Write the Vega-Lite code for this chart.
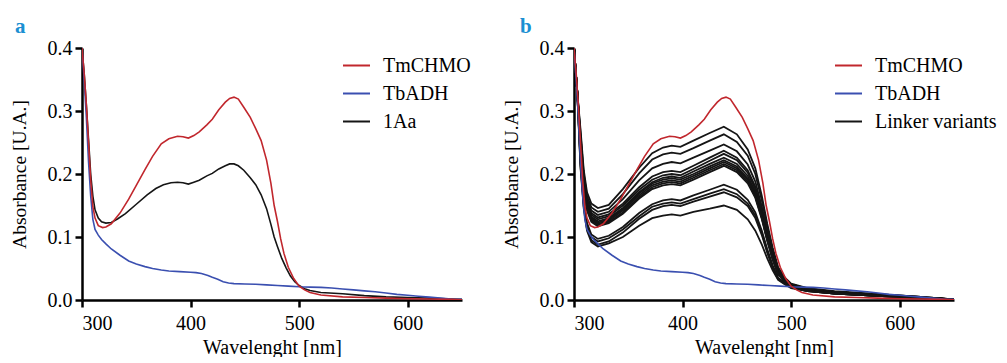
{
"$schema": "https://vega.github.io/schema/vega-lite/v6.json",
"background": "white",
"padding": {"left": 9, "top": 16, "right": 0, "bottom": 0},
"spacing": 30,
"config": {
  "font": "Liberation Serif",
  "view": {"stroke": null},
  "axis": {"domainColor": "black", "domainWidth": 2.5, "tickColor": "black", "tickWidth": 2.5, "tickSize": 7, "labelFont": "Liberation Serif", "labelFontSize": 20, "labelColor": "black", "titleFont": "Liberation Serif", "titleFontSize": 20, "titleFontWeight": "normal", "titleColor": "black", "grid": false},
  "axisX": {"labelPadding": 6, "titlePadding": 4},
  "axisY": {"labelPadding": 3, "titlePadding": 18, "titleFontSize": 19.5},
  "legend": {"orient": "none", "legendX": 260, "legendY": 3, "padding": 0, "title": null, "symbolType": "stroke", "symbolSize": 729, "symbolStrokeWidth": 2, "labelFont": "Liberation Serif", "labelFontSize": 20, "labelColor": "black", "labelOffset": 12, "rowPadding": 3},
  "title": {"font": "Liberation Serif", "fontSize": 21, "fontWeight": "bold", "color": "#1b8fd2", "anchor": "start", "frame": "bounds", "offset": 1}
},
"datasets": {
  "ref": [
{"series":"TbADH","curve":"TbADH","wl":300,"abs":0.40},{"series":"TbADH","curve":"TbADH","wl":302,"abs":0.35},{"series":"TbADH","curve":"TbADH","wl":304,"abs":0.29},{"series":"TbADH","curve":"TbADH","wl":306,"abs":0.22},{"series":"TbADH","curve":"TbADH","wl":308,"abs":0.165},{"series":"TbADH","curve":"TbADH","wl":310,"abs":0.128},{"series":"TbADH","curve":"TbADH","wl":312,"abs":0.112},{"series":"TbADH","curve":"TbADH","wl":315,"abs":0.103},{"series":"TbADH","curve":"TbADH","wl":318,"abs":0.096},{"series":"TbADH","curve":"TbADH","wl":322,"abs":0.089},{"series":"TbADH","curve":"TbADH","wl":327,"abs":0.081},{"series":"TbADH","curve":"TbADH","wl":335,"abs":0.071},{"series":"TbADH","curve":"TbADH","wl":343,"abs":0.062},{"series":"TbADH","curve":"TbADH","wl":350,"abs":0.057},{"series":"TbADH","curve":"TbADH","wl":358,"abs":0.053},{"series":"TbADH","curve":"TbADH","wl":365,"abs":0.050},{"series":"TbADH","curve":"TbADH","wl":373,"abs":0.0475},{"series":"TbADH","curve":"TbADH","wl":380,"abs":0.046},{"series":"TbADH","curve":"TbADH","wl":390,"abs":0.045},{"series":"TbADH","curve":"TbADH","wl":400,"abs":0.044},{"series":"TbADH","curve":"TbADH","wl":405,"abs":0.0435},{"series":"TbADH","curve":"TbADH","wl":410,"abs":0.042},{"series":"TbADH","curve":"TbADH","wl":416,"abs":0.039},{"series":"TbADH","curve":"TbADH","wl":420,"abs":0.036},{"series":"TbADH","curve":"TbADH","wl":425,"abs":0.033},{"series":"TbADH","curve":"TbADH","wl":430,"abs":0.029},{"series":"TbADH","curve":"TbADH","wl":435,"abs":0.027},{"series":"TbADH","curve":"TbADH","wl":440,"abs":0.026},{"series":"TbADH","curve":"TbADH","wl":450,"abs":0.0255},{"series":"TbADH","curve":"TbADH","wl":460,"abs":0.025},{"series":"TbADH","curve":"TbADH","wl":470,"abs":0.024},{"series":"TbADH","curve":"TbADH","wl":480,"abs":0.023},{"series":"TbADH","curve":"TbADH","wl":490,"abs":0.022},{"series":"TbADH","curve":"TbADH","wl":500,"abs":0.021},{"series":"TbADH","curve":"TbADH","wl":510,"abs":0.0205},{"series":"TbADH","curve":"TbADH","wl":520,"abs":0.020},{"series":"TbADH","curve":"TbADH","wl":530,"abs":0.019},{"series":"TbADH","curve":"TbADH","wl":540,"abs":0.0175},{"series":"TbADH","curve":"TbADH","wl":550,"abs":0.016},{"series":"TbADH","curve":"TbADH","wl":560,"abs":0.0145},{"series":"TbADH","curve":"TbADH","wl":570,"abs":0.013},{"series":"TbADH","curve":"TbADH","wl":580,"abs":0.011},{"series":"TbADH","curve":"TbADH","wl":590,"abs":0.009},{"series":"TbADH","curve":"TbADH","wl":600,"abs":0.0075},{"series":"TbADH","curve":"TbADH","wl":610,"abs":0.006},{"series":"TbADH","curve":"TbADH","wl":620,"abs":0.0045},{"series":"TbADH","curve":"TbADH","wl":630,"abs":0.003},{"series":"TbADH","curve":"TbADH","wl":640,"abs":0.0015},{"series":"TbADH","curve":"TbADH","wl":650,"abs":0.001},
{"series":"TmCHMO","curve":"TmCHMO","wl":300,"abs":0.40},{"series":"TmCHMO","curve":"TmCHMO","wl":302,"abs":0.36},{"series":"TmCHMO","curve":"TmCHMO","wl":304,"abs":0.31},{"series":"TmCHMO","curve":"TmCHMO","wl":306,"abs":0.25},{"series":"TmCHMO","curve":"TmCHMO","wl":308,"abs":0.19},{"series":"TmCHMO","curve":"TmCHMO","wl":310,"abs":0.148},{"series":"TmCHMO","curve":"TmCHMO","wl":312,"abs":0.13},{"series":"TmCHMO","curve":"TmCHMO","wl":315,"abs":0.118},{"series":"TmCHMO","curve":"TmCHMO","wl":319,"abs":0.115},{"series":"TmCHMO","curve":"TmCHMO","wl":322,"abs":0.116},{"series":"TmCHMO","curve":"TmCHMO","wl":327,"abs":0.121},{"series":"TmCHMO","curve":"TmCHMO","wl":335,"abs":0.138},{"series":"TmCHMO","curve":"TmCHMO","wl":343,"abs":0.160},{"series":"TmCHMO","curve":"TmCHMO","wl":350,"abs":0.182},{"series":"TmCHMO","curve":"TmCHMO","wl":358,"abs":0.207},{"series":"TmCHMO","curve":"TmCHMO","wl":365,"abs":0.228},{"series":"TmCHMO","curve":"TmCHMO","wl":373,"abs":0.248},{"series":"TmCHMO","curve":"TmCHMO","wl":380,"abs":0.256},{"series":"TmCHMO","curve":"TmCHMO","wl":388,"abs":0.260},{"series":"TmCHMO","curve":"TmCHMO","wl":393,"abs":0.259},{"series":"TmCHMO","curve":"TmCHMO","wl":398,"abs":0.257},{"series":"TmCHMO","curve":"TmCHMO","wl":403,"abs":0.261},{"series":"TmCHMO","curve":"TmCHMO","wl":408,"abs":0.267},{"series":"TmCHMO","curve":"TmCHMO","wl":415,"abs":0.278},{"series":"TmCHMO","curve":"TmCHMO","wl":420,"abs":0.287},{"series":"TmCHMO","curve":"TmCHMO","wl":426,"abs":0.302},{"series":"TmCHMO","curve":"TmCHMO","wl":432,"abs":0.314},{"series":"TmCHMO","curve":"TmCHMO","wl":436,"abs":0.320},{"series":"TmCHMO","curve":"TmCHMO","wl":440,"abs":0.322},{"series":"TmCHMO","curve":"TmCHMO","wl":444,"abs":0.319},{"series":"TmCHMO","curve":"TmCHMO","wl":449,"abs":0.306},{"series":"TmCHMO","curve":"TmCHMO","wl":455,"abs":0.290},{"series":"TmCHMO","curve":"TmCHMO","wl":460,"abs":0.272},{"series":"TmCHMO","curve":"TmCHMO","wl":465,"abs":0.253},{"series":"TmCHMO","curve":"TmCHMO","wl":470,"abs":0.222},{"series":"TmCHMO","curve":"TmCHMO","wl":474,"abs":0.185},{"series":"TmCHMO","curve":"TmCHMO","wl":477,"abs":0.150},{"series":"TmCHMO","curve":"TmCHMO","wl":480,"abs":0.125},{"series":"TmCHMO","curve":"TmCHMO","wl":483,"abs":0.097},{"series":"TmCHMO","curve":"TmCHMO","wl":486,"abs":0.074},{"series":"TmCHMO","curve":"TmCHMO","wl":490,"abs":0.052},{"series":"TmCHMO","curve":"TmCHMO","wl":495,"abs":0.034},{"series":"TmCHMO","curve":"TmCHMO","wl":500,"abs":0.022},{"series":"TmCHMO","curve":"TmCHMO","wl":505,"abs":0.016},{"series":"TmCHMO","curve":"TmCHMO","wl":510,"abs":0.012},{"series":"TmCHMO","curve":"TmCHMO","wl":520,"abs":0.008},{"series":"TmCHMO","curve":"TmCHMO","wl":540,"abs":0.005},{"series":"TmCHMO","curve":"TmCHMO","wl":560,"abs":0.004},{"series":"TmCHMO","curve":"TmCHMO","wl":580,"abs":0.003},{"series":"TmCHMO","curve":"TmCHMO","wl":600,"abs":0.002},{"series":"TmCHMO","curve":"TmCHMO","wl":620,"abs":0.0015},{"series":"TmCHMO","curve":"TmCHMO","wl":640,"abs":0.001},{"series":"TmCHMO","curve":"TmCHMO","wl":650,"abs":0.0005}
  ],
  "aa": [
{"series":"1Aa","curve":"1Aa","wl":300,"abs":0.40},{"series":"1Aa","curve":"1Aa","wl":302,"abs":0.36},{"series":"1Aa","curve":"1Aa","wl":304,"abs":0.31},{"series":"1Aa","curve":"1Aa","wl":306,"abs":0.255},{"series":"1Aa","curve":"1Aa","wl":308,"abs":0.20},{"series":"1Aa","curve":"1Aa","wl":310,"abs":0.165},{"series":"1Aa","curve":"1Aa","wl":312,"abs":0.143},{"series":"1Aa","curve":"1Aa","wl":315,"abs":0.130},{"series":"1Aa","curve":"1Aa","wl":318,"abs":0.124},{"series":"1Aa","curve":"1Aa","wl":322,"abs":0.122},{"series":"1Aa","curve":"1Aa","wl":327,"abs":0.123},{"series":"1Aa","curve":"1Aa","wl":333,"abs":0.129},{"series":"1Aa","curve":"1Aa","wl":340,"abs":0.137},{"series":"1Aa","curve":"1Aa","wl":350,"abs":0.152},{"series":"1Aa","curve":"1Aa","wl":360,"abs":0.167},{"series":"1Aa","curve":"1Aa","wl":368,"abs":0.177},{"series":"1Aa","curve":"1Aa","wl":375,"abs":0.183},{"series":"1Aa","curve":"1Aa","wl":382,"abs":0.186},{"series":"1Aa","curve":"1Aa","wl":388,"abs":0.187},{"series":"1Aa","curve":"1Aa","wl":393,"abs":0.186},{"series":"1Aa","curve":"1Aa","wl":398,"abs":0.184},{"series":"1Aa","curve":"1Aa","wl":403,"abs":0.187},{"series":"1Aa","curve":"1Aa","wl":408,"abs":0.190},{"series":"1Aa","curve":"1Aa","wl":415,"abs":0.197},{"series":"1Aa","curve":"1Aa","wl":420,"abs":0.201},{"series":"1Aa","curve":"1Aa","wl":426,"abs":0.208},{"series":"1Aa","curve":"1Aa","wl":432,"abs":0.213},{"series":"1Aa","curve":"1Aa","wl":436,"abs":0.216},{"series":"1Aa","curve":"1Aa","wl":440,"abs":0.216},{"series":"1Aa","curve":"1Aa","wl":444,"abs":0.213},{"series":"1Aa","curve":"1Aa","wl":449,"abs":0.206},{"series":"1Aa","curve":"1Aa","wl":455,"abs":0.194},{"series":"1Aa","curve":"1Aa","wl":460,"abs":0.183},{"series":"1Aa","curve":"1Aa","wl":465,"abs":0.167},{"series":"1Aa","curve":"1Aa","wl":470,"abs":0.145},{"series":"1Aa","curve":"1Aa","wl":474,"abs":0.120},{"series":"1Aa","curve":"1Aa","wl":477,"abs":0.100},{"series":"1Aa","curve":"1Aa","wl":480,"abs":0.085},{"series":"1Aa","curve":"1Aa","wl":484,"abs":0.066},{"series":"1Aa","curve":"1Aa","wl":488,"abs":0.051},{"series":"1Aa","curve":"1Aa","wl":492,"abs":0.038},{"series":"1Aa","curve":"1Aa","wl":496,"abs":0.029},{"series":"1Aa","curve":"1Aa","wl":500,"abs":0.023},{"series":"1Aa","curve":"1Aa","wl":505,"abs":0.018},{"series":"1Aa","curve":"1Aa","wl":510,"abs":0.015},{"series":"1Aa","curve":"1Aa","wl":520,"abs":0.012},{"series":"1Aa","curve":"1Aa","wl":540,"abs":0.010},{"series":"1Aa","curve":"1Aa","wl":560,"abs":0.007},{"series":"1Aa","curve":"1Aa","wl":580,"abs":0.005},{"series":"1Aa","curve":"1Aa","wl":600,"abs":0.004},{"series":"1Aa","curve":"1Aa","wl":620,"abs":0.003},{"series":"1Aa","curve":"1Aa","wl":640,"abs":0.0015},{"series":"1Aa","curve":"1Aa","wl":650,"abs":0.001}
  ],
  "var": [
{"series":"Linker variants","curve":"v1","wl":300,"abs":0.40},{"series":"Linker variants","curve":"v1","wl":303,"abs":0.33},{"series":"Linker variants","curve":"v1","wl":306,"abs":0.271},{"series":"Linker variants","curve":"v1","wl":309,"abs":0.206},{"series":"Linker variants","curve":"v1","wl":312,"abs":0.171},{"series":"Linker variants","curve":"v1","wl":316,"abs":0.153},{"series":"Linker variants","curve":"v1","wl":322,"abs":0.146},{"series":"Linker variants","curve":"v1","wl":332,"abs":0.151},{"series":"Linker variants","curve":"v1","wl":345,"abs":0.176},{"series":"Linker variants","curve":"v1","wl":360,"abs":0.210},{"series":"Linker variants","curve":"v1","wl":372,"abs":0.233},{"series":"Linker variants","curve":"v1","wl":382,"abs":0.242},{"series":"Linker variants","curve":"v1","wl":390,"abs":0.245},{"series":"Linker variants","curve":"v1","wl":398,"abs":0.243},{"series":"Linker variants","curve":"v1","wl":410,"abs":0.253},{"series":"Linker variants","curve":"v1","wl":425,"abs":0.265},{"series":"Linker variants","curve":"v1","wl":438,"abs":0.275},{"series":"Linker variants","curve":"v1","wl":450,"abs":0.263},{"series":"Linker variants","curve":"v1","wl":460,"abs":0.239},{"series":"Linker variants","curve":"v1","wl":467,"abs":0.209},{"series":"Linker variants","curve":"v1","wl":473,"abs":0.165},{"series":"Linker variants","curve":"v1","wl":478,"abs":0.121},{"series":"Linker variants","curve":"v1","wl":483,"abs":0.083},{"series":"Linker variants","curve":"v1","wl":488,"abs":0.052},{"series":"Linker variants","curve":"v1","wl":494,"abs":0.036},{"series":"Linker variants","curve":"v1","wl":500,"abs":0.026},{"series":"Linker variants","curve":"v1","wl":515,"abs":0.019},{"series":"Linker variants","curve":"v1","wl":540,"abs":0.014},{"series":"Linker variants","curve":"v1","wl":575,"abs":0.010},{"series":"Linker variants","curve":"v1","wl":610,"abs":0.006},{"series":"Linker variants","curve":"v1","wl":650,"abs":0.001},
{"series":"Linker variants","curve":"v2","wl":300,"abs":0.40},{"series":"Linker variants","curve":"v2","wl":303,"abs":0.33},{"series":"Linker variants","curve":"v2","wl":306,"abs":0.265},{"series":"Linker variants","curve":"v2","wl":309,"abs":0.200},{"series":"Linker variants","curve":"v2","wl":312,"abs":0.165},{"series":"Linker variants","curve":"v2","wl":316,"abs":0.147},{"series":"Linker variants","curve":"v2","wl":322,"abs":0.140},{"series":"Linker variants","curve":"v2","wl":332,"abs":0.145},{"series":"Linker variants","curve":"v2","wl":345,"abs":0.168},{"series":"Linker variants","curve":"v2","wl":360,"abs":0.201},{"series":"Linker variants","curve":"v2","wl":372,"abs":0.223},{"series":"Linker variants","curve":"v2","wl":382,"abs":0.231},{"series":"Linker variants","curve":"v2","wl":390,"abs":0.234},{"series":"Linker variants","curve":"v2","wl":398,"abs":0.232},{"series":"Linker variants","curve":"v2","wl":410,"abs":0.241},{"series":"Linker variants","curve":"v2","wl":425,"abs":0.253},{"series":"Linker variants","curve":"v2","wl":438,"abs":0.263},{"series":"Linker variants","curve":"v2","wl":450,"abs":0.251},{"series":"Linker variants","curve":"v2","wl":460,"abs":0.229},{"series":"Linker variants","curve":"v2","wl":467,"abs":0.200},{"series":"Linker variants","curve":"v2","wl":473,"abs":0.158},{"series":"Linker variants","curve":"v2","wl":478,"abs":0.116},{"series":"Linker variants","curve":"v2","wl":483,"abs":0.079},{"series":"Linker variants","curve":"v2","wl":488,"abs":0.050},{"series":"Linker variants","curve":"v2","wl":494,"abs":0.035},{"series":"Linker variants","curve":"v2","wl":500,"abs":0.025},{"series":"Linker variants","curve":"v2","wl":515,"abs":0.018},{"series":"Linker variants","curve":"v2","wl":540,"abs":0.013},{"series":"Linker variants","curve":"v2","wl":575,"abs":0.009},{"series":"Linker variants","curve":"v2","wl":610,"abs":0.006},{"series":"Linker variants","curve":"v2","wl":650,"abs":0.001},
{"series":"Linker variants","curve":"v3","wl":300,"abs":0.40},{"series":"Linker variants","curve":"v3","wl":303,"abs":0.33},{"series":"Linker variants","curve":"v3","wl":306,"abs":0.260},{"series":"Linker variants","curve":"v3","wl":309,"abs":0.195},{"series":"Linker variants","curve":"v3","wl":312,"abs":0.160},{"series":"Linker variants","curve":"v3","wl":316,"abs":0.142},{"series":"Linker variants","curve":"v3","wl":322,"abs":0.135},{"series":"Linker variants","curve":"v3","wl":332,"abs":0.140},{"series":"Linker variants","curve":"v3","wl":345,"abs":0.160},{"series":"Linker variants","curve":"v3","wl":360,"abs":0.190},{"series":"Linker variants","curve":"v3","wl":372,"abs":0.209},{"series":"Linker variants","curve":"v3","wl":382,"abs":0.216},{"series":"Linker variants","curve":"v3","wl":390,"abs":0.219},{"series":"Linker variants","curve":"v3","wl":398,"abs":0.217},{"series":"Linker variants","curve":"v3","wl":410,"abs":0.226},{"series":"Linker variants","curve":"v3","wl":425,"abs":0.237},{"series":"Linker variants","curve":"v3","wl":438,"abs":0.247},{"series":"Linker variants","curve":"v3","wl":450,"abs":0.236},{"series":"Linker variants","curve":"v3","wl":460,"abs":0.215},{"series":"Linker variants","curve":"v3","wl":467,"abs":0.188},{"series":"Linker variants","curve":"v3","wl":473,"abs":0.148},{"series":"Linker variants","curve":"v3","wl":478,"abs":0.109},{"series":"Linker variants","curve":"v3","wl":483,"abs":0.074},{"series":"Linker variants","curve":"v3","wl":488,"abs":0.047},{"series":"Linker variants","curve":"v3","wl":494,"abs":0.034},{"series":"Linker variants","curve":"v3","wl":500,"abs":0.025},{"series":"Linker variants","curve":"v3","wl":515,"abs":0.018},{"series":"Linker variants","curve":"v3","wl":540,"abs":0.013},{"series":"Linker variants","curve":"v3","wl":575,"abs":0.009},{"series":"Linker variants","curve":"v3","wl":610,"abs":0.006},{"series":"Linker variants","curve":"v3","wl":650,"abs":0.001},
{"series":"Linker variants","curve":"v4","wl":300,"abs":0.40},{"series":"Linker variants","curve":"v4","wl":303,"abs":0.33},{"series":"Linker variants","curve":"v4","wl":306,"abs":0.256},{"series":"Linker variants","curve":"v4","wl":309,"abs":0.191},{"series":"Linker variants","curve":"v4","wl":312,"abs":0.156},{"series":"Linker variants","curve":"v4","wl":316,"abs":0.138},{"series":"Linker variants","curve":"v4","wl":322,"abs":0.131},{"series":"Linker variants","curve":"v4","wl":332,"abs":0.136},{"series":"Linker variants","curve":"v4","wl":345,"abs":0.153},{"series":"Linker variants","curve":"v4","wl":360,"abs":0.179},{"series":"Linker variants","curve":"v4","wl":372,"abs":0.196},{"series":"Linker variants","curve":"v4","wl":382,"abs":0.203},{"series":"Linker variants","curve":"v4","wl":390,"abs":0.205},{"series":"Linker variants","curve":"v4","wl":398,"abs":0.203},{"series":"Linker variants","curve":"v4","wl":410,"abs":0.213},{"series":"Linker variants","curve":"v4","wl":425,"abs":0.226},{"series":"Linker variants","curve":"v4","wl":438,"abs":0.237},{"series":"Linker variants","curve":"v4","wl":450,"abs":0.226},{"series":"Linker variants","curve":"v4","wl":460,"abs":0.206},{"series":"Linker variants","curve":"v4","wl":467,"abs":0.180},{"series":"Linker variants","curve":"v4","wl":473,"abs":0.142},{"series":"Linker variants","curve":"v4","wl":478,"abs":0.104},{"series":"Linker variants","curve":"v4","wl":483,"abs":0.071},{"series":"Linker variants","curve":"v4","wl":488,"abs":0.045},{"series":"Linker variants","curve":"v4","wl":494,"abs":0.033},{"series":"Linker variants","curve":"v4","wl":500,"abs":0.024},{"series":"Linker variants","curve":"v4","wl":515,"abs":0.017},{"series":"Linker variants","curve":"v4","wl":540,"abs":0.012},{"series":"Linker variants","curve":"v4","wl":575,"abs":0.009},{"series":"Linker variants","curve":"v4","wl":610,"abs":0.005},{"series":"Linker variants","curve":"v4","wl":650,"abs":0.001},
{"series":"Linker variants","curve":"v5","wl":300,"abs":0.40},{"series":"Linker variants","curve":"v5","wl":303,"abs":0.33},{"series":"Linker variants","curve":"v5","wl":306,"abs":0.253},{"series":"Linker variants","curve":"v5","wl":309,"abs":0.188},{"series":"Linker variants","curve":"v5","wl":312,"abs":0.153},{"series":"Linker variants","curve":"v5","wl":316,"abs":0.135},{"series":"Linker variants","curve":"v5","wl":322,"abs":0.128},{"series":"Linker variants","curve":"v5","wl":332,"abs":0.133},{"series":"Linker variants","curve":"v5","wl":345,"abs":0.150},{"series":"Linker variants","curve":"v5","wl":360,"abs":0.175},{"series":"Linker variants","curve":"v5","wl":372,"abs":0.191},{"series":"Linker variants","curve":"v5","wl":382,"abs":0.198},{"series":"Linker variants","curve":"v5","wl":390,"abs":0.200},{"series":"Linker variants","curve":"v5","wl":398,"abs":0.198},{"series":"Linker variants","curve":"v5","wl":410,"abs":0.208},{"series":"Linker variants","curve":"v5","wl":425,"abs":0.221},{"series":"Linker variants","curve":"v5","wl":438,"abs":0.232},{"series":"Linker variants","curve":"v5","wl":450,"abs":0.222},{"series":"Linker variants","curve":"v5","wl":460,"abs":0.202},{"series":"Linker variants","curve":"v5","wl":467,"abs":0.176},{"series":"Linker variants","curve":"v5","wl":473,"abs":0.139},{"series":"Linker variants","curve":"v5","wl":478,"abs":0.102},{"series":"Linker variants","curve":"v5","wl":483,"abs":0.070},{"series":"Linker variants","curve":"v5","wl":488,"abs":0.044},{"series":"Linker variants","curve":"v5","wl":494,"abs":0.033},{"series":"Linker variants","curve":"v5","wl":500,"abs":0.024},{"series":"Linker variants","curve":"v5","wl":515,"abs":0.017},{"series":"Linker variants","curve":"v5","wl":540,"abs":0.012},{"series":"Linker variants","curve":"v5","wl":575,"abs":0.008},{"series":"Linker variants","curve":"v5","wl":610,"abs":0.005},{"series":"Linker variants","curve":"v5","wl":650,"abs":0.001},
{"series":"Linker variants","curve":"v6","wl":300,"abs":0.40},{"series":"Linker variants","curve":"v6","wl":303,"abs":0.33},{"series":"Linker variants","curve":"v6","wl":306,"abs":0.250},{"series":"Linker variants","curve":"v6","wl":309,"abs":0.185},{"series":"Linker variants","curve":"v6","wl":312,"abs":0.150},{"series":"Linker variants","curve":"v6","wl":316,"abs":0.132},{"series":"Linker variants","curve":"v6","wl":322,"abs":0.125},{"series":"Linker variants","curve":"v6","wl":332,"abs":0.130},{"series":"Linker variants","curve":"v6","wl":345,"abs":0.146},{"series":"Linker variants","curve":"v6","wl":360,"abs":0.171},{"series":"Linker variants","curve":"v6","wl":372,"abs":0.187},{"series":"Linker variants","curve":"v6","wl":382,"abs":0.194},{"series":"Linker variants","curve":"v6","wl":390,"abs":0.196},{"series":"Linker variants","curve":"v6","wl":398,"abs":0.194},{"series":"Linker variants","curve":"v6","wl":410,"abs":0.204},{"series":"Linker variants","curve":"v6","wl":425,"abs":0.216},{"series":"Linker variants","curve":"v6","wl":438,"abs":0.226},{"series":"Linker variants","curve":"v6","wl":450,"abs":0.216},{"series":"Linker variants","curve":"v6","wl":460,"abs":0.197},{"series":"Linker variants","curve":"v6","wl":467,"abs":0.172},{"series":"Linker variants","curve":"v6","wl":473,"abs":0.136},{"series":"Linker variants","curve":"v6","wl":478,"abs":0.099},{"series":"Linker variants","curve":"v6","wl":483,"abs":0.068},{"series":"Linker variants","curve":"v6","wl":488,"abs":0.043},{"series":"Linker variants","curve":"v6","wl":494,"abs":0.032},{"series":"Linker variants","curve":"v6","wl":500,"abs":0.023},{"series":"Linker variants","curve":"v6","wl":515,"abs":0.016},{"series":"Linker variants","curve":"v6","wl":540,"abs":0.011},{"series":"Linker variants","curve":"v6","wl":575,"abs":0.008},{"series":"Linker variants","curve":"v6","wl":610,"abs":0.005},{"series":"Linker variants","curve":"v6","wl":650,"abs":0.001},
{"series":"Linker variants","curve":"v7","wl":300,"abs":0.40},{"series":"Linker variants","curve":"v7","wl":303,"abs":0.33},{"series":"Linker variants","curve":"v7","wl":306,"abs":0.248},{"series":"Linker variants","curve":"v7","wl":309,"abs":0.183},{"series":"Linker variants","curve":"v7","wl":312,"abs":0.148},{"series":"Linker variants","curve":"v7","wl":316,"abs":0.130},{"series":"Linker variants","curve":"v7","wl":322,"abs":0.123},{"series":"Linker variants","curve":"v7","wl":332,"abs":0.128},{"series":"Linker variants","curve":"v7","wl":345,"abs":0.144},{"series":"Linker variants","curve":"v7","wl":360,"abs":0.169},{"series":"Linker variants","curve":"v7","wl":372,"abs":0.185},{"series":"Linker variants","curve":"v7","wl":382,"abs":0.191},{"series":"Linker variants","curve":"v7","wl":390,"abs":0.193},{"series":"Linker variants","curve":"v7","wl":398,"abs":0.191},{"series":"Linker variants","curve":"v7","wl":410,"abs":0.200},{"series":"Linker variants","curve":"v7","wl":425,"abs":0.212},{"series":"Linker variants","curve":"v7","wl":438,"abs":0.222},{"series":"Linker variants","curve":"v7","wl":450,"abs":0.212},{"series":"Linker variants","curve":"v7","wl":460,"abs":0.193},{"series":"Linker variants","curve":"v7","wl":467,"abs":0.169},{"series":"Linker variants","curve":"v7","wl":473,"abs":0.133},{"series":"Linker variants","curve":"v7","wl":478,"abs":0.098},{"series":"Linker variants","curve":"v7","wl":483,"abs":0.067},{"series":"Linker variants","curve":"v7","wl":488,"abs":0.042},{"series":"Linker variants","curve":"v7","wl":494,"abs":0.032},{"series":"Linker variants","curve":"v7","wl":500,"abs":0.023},{"series":"Linker variants","curve":"v7","wl":515,"abs":0.016},{"series":"Linker variants","curve":"v7","wl":540,"abs":0.011},{"series":"Linker variants","curve":"v7","wl":575,"abs":0.008},{"series":"Linker variants","curve":"v7","wl":610,"abs":0.005},{"series":"Linker variants","curve":"v7","wl":650,"abs":0.001},
{"series":"Linker variants","curve":"v8","wl":300,"abs":0.40},{"series":"Linker variants","curve":"v8","wl":303,"abs":0.33},{"series":"Linker variants","curve":"v8","wl":306,"abs":0.246},{"series":"Linker variants","curve":"v8","wl":309,"abs":0.181},{"series":"Linker variants","curve":"v8","wl":312,"abs":0.146},{"series":"Linker variants","curve":"v8","wl":316,"abs":0.128},{"series":"Linker variants","curve":"v8","wl":322,"abs":0.121},{"series":"Linker variants","curve":"v8","wl":332,"abs":0.126},{"series":"Linker variants","curve":"v8","wl":345,"abs":0.142},{"series":"Linker variants","curve":"v8","wl":360,"abs":0.166},{"series":"Linker variants","curve":"v8","wl":372,"abs":0.182},{"series":"Linker variants","curve":"v8","wl":382,"abs":0.188},{"series":"Linker variants","curve":"v8","wl":390,"abs":0.190},{"series":"Linker variants","curve":"v8","wl":398,"abs":0.188},{"series":"Linker variants","curve":"v8","wl":410,"abs":0.197},{"series":"Linker variants","curve":"v8","wl":425,"abs":0.209},{"series":"Linker variants","curve":"v8","wl":438,"abs":0.219},{"series":"Linker variants","curve":"v8","wl":450,"abs":0.209},{"series":"Linker variants","curve":"v8","wl":460,"abs":0.191},{"series":"Linker variants","curve":"v8","wl":467,"abs":0.166},{"series":"Linker variants","curve":"v8","wl":473,"abs":0.131},{"series":"Linker variants","curve":"v8","wl":478,"abs":0.096},{"series":"Linker variants","curve":"v8","wl":483,"abs":0.066},{"series":"Linker variants","curve":"v8","wl":488,"abs":0.042},{"series":"Linker variants","curve":"v8","wl":494,"abs":0.031},{"series":"Linker variants","curve":"v8","wl":500,"abs":0.022},{"series":"Linker variants","curve":"v8","wl":515,"abs":0.016},{"series":"Linker variants","curve":"v8","wl":540,"abs":0.011},{"series":"Linker variants","curve":"v8","wl":575,"abs":0.007},{"series":"Linker variants","curve":"v8","wl":610,"abs":0.004},{"series":"Linker variants","curve":"v8","wl":650,"abs":0.001},
{"series":"Linker variants","curve":"v9","wl":300,"abs":0.40},{"series":"Linker variants","curve":"v9","wl":303,"abs":0.33},{"series":"Linker variants","curve":"v9","wl":306,"abs":0.244},{"series":"Linker variants","curve":"v9","wl":309,"abs":0.179},{"series":"Linker variants","curve":"v9","wl":312,"abs":0.144},{"series":"Linker variants","curve":"v9","wl":316,"abs":0.126},{"series":"Linker variants","curve":"v9","wl":322,"abs":0.119},{"series":"Linker variants","curve":"v9","wl":332,"abs":0.124},{"series":"Linker variants","curve":"v9","wl":345,"abs":0.139},{"series":"Linker variants","curve":"v9","wl":360,"abs":0.163},{"series":"Linker variants","curve":"v9","wl":372,"abs":0.179},{"series":"Linker variants","curve":"v9","wl":382,"abs":0.185},{"series":"Linker variants","curve":"v9","wl":390,"abs":0.187},{"series":"Linker variants","curve":"v9","wl":398,"abs":0.185},{"series":"Linker variants","curve":"v9","wl":410,"abs":0.194},{"series":"Linker variants","curve":"v9","wl":425,"abs":0.206},{"series":"Linker variants","curve":"v9","wl":438,"abs":0.216},{"series":"Linker variants","curve":"v9","wl":450,"abs":0.206},{"series":"Linker variants","curve":"v9","wl":460,"abs":0.188},{"series":"Linker variants","curve":"v9","wl":467,"abs":0.164},{"series":"Linker variants","curve":"v9","wl":473,"abs":0.130},{"series":"Linker variants","curve":"v9","wl":478,"abs":0.095},{"series":"Linker variants","curve":"v9","wl":483,"abs":0.065},{"series":"Linker variants","curve":"v9","wl":488,"abs":0.041},{"series":"Linker variants","curve":"v9","wl":494,"abs":0.031},{"series":"Linker variants","curve":"v9","wl":500,"abs":0.022},{"series":"Linker variants","curve":"v9","wl":515,"abs":0.015},{"series":"Linker variants","curve":"v9","wl":540,"abs":0.010},{"series":"Linker variants","curve":"v9","wl":575,"abs":0.007},{"series":"Linker variants","curve":"v9","wl":610,"abs":0.004},{"series":"Linker variants","curve":"v9","wl":650,"abs":0.001},
{"series":"Linker variants","curve":"v10","wl":300,"abs":0.40},{"series":"Linker variants","curve":"v10","wl":303,"abs":0.33},{"series":"Linker variants","curve":"v10","wl":306,"abs":0.242},{"series":"Linker variants","curve":"v10","wl":309,"abs":0.177},{"series":"Linker variants","curve":"v10","wl":312,"abs":0.142},{"series":"Linker variants","curve":"v10","wl":316,"abs":0.124},{"series":"Linker variants","curve":"v10","wl":322,"abs":0.117},{"series":"Linker variants","curve":"v10","wl":332,"abs":0.122},{"series":"Linker variants","curve":"v10","wl":345,"abs":0.137},{"series":"Linker variants","curve":"v10","wl":360,"abs":0.161},{"series":"Linker variants","curve":"v10","wl":372,"abs":0.176},{"series":"Linker variants","curve":"v10","wl":382,"abs":0.182},{"series":"Linker variants","curve":"v10","wl":390,"abs":0.184},{"series":"Linker variants","curve":"v10","wl":398,"abs":0.182},{"series":"Linker variants","curve":"v10","wl":410,"abs":0.191},{"series":"Linker variants","curve":"v10","wl":425,"abs":0.203},{"series":"Linker variants","curve":"v10","wl":438,"abs":0.213},{"series":"Linker variants","curve":"v10","wl":450,"abs":0.203},{"series":"Linker variants","curve":"v10","wl":460,"abs":0.185},{"series":"Linker variants","curve":"v10","wl":467,"abs":0.162},{"series":"Linker variants","curve":"v10","wl":473,"abs":0.128},{"series":"Linker variants","curve":"v10","wl":478,"abs":0.094},{"series":"Linker variants","curve":"v10","wl":483,"abs":0.064},{"series":"Linker variants","curve":"v10","wl":488,"abs":0.040},{"series":"Linker variants","curve":"v10","wl":494,"abs":0.030},{"series":"Linker variants","curve":"v10","wl":500,"abs":0.022},{"series":"Linker variants","curve":"v10","wl":515,"abs":0.015},{"series":"Linker variants","curve":"v10","wl":540,"abs":0.010},{"series":"Linker variants","curve":"v10","wl":575,"abs":0.007},{"series":"Linker variants","curve":"v10","wl":610,"abs":0.004},{"series":"Linker variants","curve":"v10","wl":650,"abs":0.001},
{"series":"Linker variants","curve":"v11","wl":300,"abs":0.40},{"series":"Linker variants","curve":"v11","wl":303,"abs":0.33},{"series":"Linker variants","curve":"v11","wl":306,"abs":0.222},{"series":"Linker variants","curve":"v11","wl":309,"abs":0.157},{"series":"Linker variants","curve":"v11","wl":312,"abs":0.122},{"series":"Linker variants","curve":"v11","wl":316,"abs":0.104},{"series":"Linker variants","curve":"v11","wl":322,"abs":0.097},{"series":"Linker variants","curve":"v11","wl":332,"abs":0.102},{"series":"Linker variants","curve":"v11","wl":345,"abs":0.116},{"series":"Linker variants","curve":"v11","wl":360,"abs":0.138},{"series":"Linker variants","curve":"v11","wl":372,"abs":0.152},{"series":"Linker variants","curve":"v11","wl":382,"abs":0.158},{"series":"Linker variants","curve":"v11","wl":390,"abs":0.160},{"series":"Linker variants","curve":"v11","wl":398,"abs":0.158},{"series":"Linker variants","curve":"v11","wl":410,"abs":0.166},{"series":"Linker variants","curve":"v11","wl":425,"abs":0.175},{"series":"Linker variants","curve":"v11","wl":438,"abs":0.183},{"series":"Linker variants","curve":"v11","wl":450,"abs":0.175},{"series":"Linker variants","curve":"v11","wl":460,"abs":0.159},{"series":"Linker variants","curve":"v11","wl":467,"abs":0.139},{"series":"Linker variants","curve":"v11","wl":473,"abs":0.110},{"series":"Linker variants","curve":"v11","wl":478,"abs":0.081},{"series":"Linker variants","curve":"v11","wl":483,"abs":0.055},{"series":"Linker variants","curve":"v11","wl":488,"abs":0.035},{"series":"Linker variants","curve":"v11","wl":494,"abs":0.028},{"series":"Linker variants","curve":"v11","wl":500,"abs":0.021},{"series":"Linker variants","curve":"v11","wl":515,"abs":0.015},{"series":"Linker variants","curve":"v11","wl":540,"abs":0.011},{"series":"Linker variants","curve":"v11","wl":575,"abs":0.008},{"series":"Linker variants","curve":"v11","wl":610,"abs":0.005},{"series":"Linker variants","curve":"v11","wl":650,"abs":0.001},
{"series":"Linker variants","curve":"v12","wl":300,"abs":0.40},{"series":"Linker variants","curve":"v12","wl":303,"abs":0.33},{"series":"Linker variants","curve":"v12","wl":306,"abs":0.218},{"series":"Linker variants","curve":"v12","wl":309,"abs":0.153},{"series":"Linker variants","curve":"v12","wl":312,"abs":0.118},{"series":"Linker variants","curve":"v12","wl":316,"abs":0.100},{"series":"Linker variants","curve":"v12","wl":322,"abs":0.093},{"series":"Linker variants","curve":"v12","wl":332,"abs":0.098},{"series":"Linker variants","curve":"v12","wl":345,"abs":0.112},{"series":"Linker variants","curve":"v12","wl":360,"abs":0.133},{"series":"Linker variants","curve":"v12","wl":372,"abs":0.148},{"series":"Linker variants","curve":"v12","wl":382,"abs":0.153},{"series":"Linker variants","curve":"v12","wl":390,"abs":0.155},{"series":"Linker variants","curve":"v12","wl":398,"abs":0.153},{"series":"Linker variants","curve":"v12","wl":410,"abs":0.160},{"series":"Linker variants","curve":"v12","wl":425,"abs":0.169},{"series":"Linker variants","curve":"v12","wl":438,"abs":0.176},{"series":"Linker variants","curve":"v12","wl":450,"abs":0.168},{"series":"Linker variants","curve":"v12","wl":460,"abs":0.153},{"series":"Linker variants","curve":"v12","wl":467,"abs":0.134},{"series":"Linker variants","curve":"v12","wl":473,"abs":0.106},{"series":"Linker variants","curve":"v12","wl":478,"abs":0.077},{"series":"Linker variants","curve":"v12","wl":483,"abs":0.053},{"series":"Linker variants","curve":"v12","wl":488,"abs":0.034},{"series":"Linker variants","curve":"v12","wl":494,"abs":0.027},{"series":"Linker variants","curve":"v12","wl":500,"abs":0.020},{"series":"Linker variants","curve":"v12","wl":515,"abs":0.014},{"series":"Linker variants","curve":"v12","wl":540,"abs":0.010},{"series":"Linker variants","curve":"v12","wl":575,"abs":0.007},{"series":"Linker variants","curve":"v12","wl":610,"abs":0.004},{"series":"Linker variants","curve":"v12","wl":650,"abs":0.001},
{"series":"Linker variants","curve":"v13","wl":300,"abs":0.40},{"series":"Linker variants","curve":"v13","wl":303,"abs":0.33},{"series":"Linker variants","curve":"v13","wl":306,"abs":0.213},{"series":"Linker variants","curve":"v13","wl":309,"abs":0.148},{"series":"Linker variants","curve":"v13","wl":312,"abs":0.113},{"series":"Linker variants","curve":"v13","wl":316,"abs":0.095},{"series":"Linker variants","curve":"v13","wl":322,"abs":0.088},{"series":"Linker variants","curve":"v13","wl":332,"abs":0.093},{"series":"Linker variants","curve":"v13","wl":345,"abs":0.107},{"series":"Linker variants","curve":"v13","wl":360,"abs":0.129},{"series":"Linker variants","curve":"v13","wl":372,"abs":0.143},{"series":"Linker variants","curve":"v13","wl":382,"abs":0.149},{"series":"Linker variants","curve":"v13","wl":390,"abs":0.151},{"series":"Linker variants","curve":"v13","wl":398,"abs":0.149},{"series":"Linker variants","curve":"v13","wl":410,"abs":0.156},{"series":"Linker variants","curve":"v13","wl":425,"abs":0.164},{"series":"Linker variants","curve":"v13","wl":438,"abs":0.171},{"series":"Linker variants","curve":"v13","wl":450,"abs":0.163},{"series":"Linker variants","curve":"v13","wl":460,"abs":0.149},{"series":"Linker variants","curve":"v13","wl":467,"abs":0.130},{"series":"Linker variants","curve":"v13","wl":473,"abs":0.103},{"series":"Linker variants","curve":"v13","wl":478,"abs":0.075},{"series":"Linker variants","curve":"v13","wl":483,"abs":0.051},{"series":"Linker variants","curve":"v13","wl":488,"abs":0.033},{"series":"Linker variants","curve":"v13","wl":494,"abs":0.026},{"series":"Linker variants","curve":"v13","wl":500,"abs":0.020},{"series":"Linker variants","curve":"v13","wl":515,"abs":0.014},{"series":"Linker variants","curve":"v13","wl":540,"abs":0.010},{"series":"Linker variants","curve":"v13","wl":575,"abs":0.007},{"series":"Linker variants","curve":"v13","wl":610,"abs":0.004},{"series":"Linker variants","curve":"v13","wl":650,"abs":0.001},
{"series":"Linker variants","curve":"v14","wl":300,"abs":0.40},{"series":"Linker variants","curve":"v14","wl":303,"abs":0.33},{"series":"Linker variants","curve":"v14","wl":306,"abs":0.210},{"series":"Linker variants","curve":"v14","wl":309,"abs":0.145},{"series":"Linker variants","curve":"v14","wl":312,"abs":0.110},{"series":"Linker variants","curve":"v14","wl":316,"abs":0.092},{"series":"Linker variants","curve":"v14","wl":322,"abs":0.085},{"series":"Linker variants","curve":"v14","wl":332,"abs":0.090},{"series":"Linker variants","curve":"v14","wl":345,"abs":0.100},{"series":"Linker variants","curve":"v14","wl":360,"abs":0.118},{"series":"Linker variants","curve":"v14","wl":372,"abs":0.130},{"series":"Linker variants","curve":"v14","wl":382,"abs":0.134},{"series":"Linker variants","curve":"v14","wl":390,"abs":0.136},{"series":"Linker variants","curve":"v14","wl":398,"abs":0.134},{"series":"Linker variants","curve":"v14","wl":410,"abs":0.140},{"series":"Linker variants","curve":"v14","wl":425,"abs":0.145},{"series":"Linker variants","curve":"v14","wl":438,"abs":0.150},{"series":"Linker variants","curve":"v14","wl":450,"abs":0.143},{"series":"Linker variants","curve":"v14","wl":460,"abs":0.128},{"series":"Linker variants","curve":"v14","wl":467,"abs":0.110},{"series":"Linker variants","curve":"v14","wl":473,"abs":0.088},{"series":"Linker variants","curve":"v14","wl":478,"abs":0.066},{"series":"Linker variants","curve":"v14","wl":483,"abs":0.047},{"series":"Linker variants","curve":"v14","wl":488,"abs":0.032},{"series":"Linker variants","curve":"v14","wl":494,"abs":0.025},{"series":"Linker variants","curve":"v14","wl":500,"abs":0.019},{"series":"Linker variants","curve":"v14","wl":515,"abs":0.014},{"series":"Linker variants","curve":"v14","wl":540,"abs":0.010},{"series":"Linker variants","curve":"v14","wl":575,"abs":0.007},{"series":"Linker variants","curve":"v14","wl":610,"abs":0.004},{"series":"Linker variants","curve":"v14","wl":650,"abs":0.001}
  ]
},
"hconcat": [
  {
    "width": 380, "height": 252,
    "title": {"text": "a", "dx": 6},
    "encoding": {
      "x": {"field": "wl", "type": "quantitative", "scale": {"domain": [300, 650], "nice": false, "zero": false}, "axis": {"values": [300, 400, 500, 600], "title": "Wavelenght [nm]"}},
      "y": {"field": "abs", "type": "quantitative", "scale": {"domain": [0, 0.4], "nice": false}, "axis": {"values": [0, 0.1, 0.2, 0.3, 0.4], "format": ".1f", "title": "Absorbance [U.A.]"}},
      "color": {"field": "series", "type": "nominal", "scale": {"domain": ["TmCHMO", "TbADH", "1Aa"], "range": ["#c1272d", "#3a4fb0", "#151515"]}},
      "detail": {"field": "curve"}
    },
    "layer": [
      {"data": {"name": "aa"}, "mark": {"type": "line", "strokeWidth": 1.6, "clip": true}},
      {"data": {"name": "ref"}, "mark": {"type": "line", "strokeWidth": 1.6, "clip": true}}
    ]
  },
  {
    "width": 380, "height": 252,
    "title": {"text": "b", "dx": 19},
    "encoding": {
      "x": {"field": "wl", "type": "quantitative", "scale": {"domain": [300, 650], "nice": false, "zero": false}, "axis": {"values": [300, 400, 500, 600], "title": "Wavelenght [nm]"}},
      "y": {"field": "abs", "type": "quantitative", "scale": {"domain": [0, 0.4], "nice": false}, "axis": {"values": [0, 0.1, 0.2, 0.3, 0.4], "format": ".1f", "title": "Absorbance [U.A.]"}},
      "color": {"field": "series", "type": "nominal", "scale": {"domain": ["TmCHMO", "TbADH", "Linker variants"], "range": ["#c1272d", "#3a4fb0", "#151515"]}},
      "detail": {"field": "curve"}
    },
    "layer": [
      {"data": {"name": "var"}, "mark": {"type": "line", "strokeWidth": 1.8, "clip": true}},
      {"data": {"name": "ref"}, "mark": {"type": "line", "strokeWidth": 1.6, "clip": true}}
    ]
  }
],
"resolve": {"scale": {"color": "independent"}}
}
